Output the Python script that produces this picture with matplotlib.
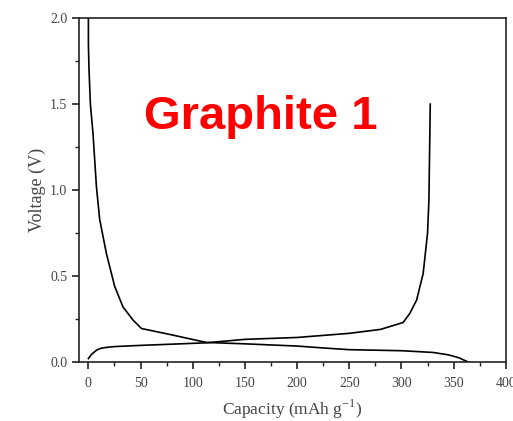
import matplotlib
matplotlib.use('AGG')
import numpy as np
import matplotlib.pyplot as plt
from matplotlib.ticker import MultipleLocator

plt.rcParams['mathtext.fontset'] = 'custom'
plt.rcParams['mathtext.rm'] = 'Liberation Serif'

# first discharge (lithiation) curve
dis_cap = [0, 0, 0.6, 1.9, 4.4, 7.7, 10.8, 17.3, 25.2, 33.2, 42.8, 50.9, 80, 113, 150, 200, 230,
           250, 300, 330, 345, 355, 364]
dis_v = [2.0, 1.85, 1.70, 1.50, 1.33, 1.02, 0.83, 0.63, 0.44, 0.32, 0.244, 0.195, 0.158, 0.114, 0.106,
         0.093, 0.08, 0.072, 0.066, 0.056, 0.042, 0.025, 0.0]

# first charge (delithiation) curve
chg_cap = [0, 3, 8, 12, 17, 25, 50, 80, 113, 150, 200, 250, 280, 301.6, 308, 314.5, 320.8, 325,
           326.3, 327.2, 327.6]
chg_v = [0.02, 0.045, 0.07, 0.08, 0.085, 0.09, 0.097, 0.104, 0.112, 0.132, 0.143, 0.167, 0.19, 0.23,
         0.283, 0.36, 0.515, 0.75, 0.94, 1.33, 1.5]

title = "Graphite 1"

fig = plt.figure(figsize=(5.13, 4.21), dpi=100)
ax = fig.add_axes([0.154, 0.140, 0.832, 0.817])

ax.plot(dis_cap, dis_v, color='black', lw=1.2)
ax.plot(chg_cap, chg_v, color='black', lw=1.2)

ax.set_xlim(-9, 400)
ax.set_ylim(0, 2.0)
ax.xaxis.set_major_locator(MultipleLocator(50))
ax.xaxis.set_minor_locator(MultipleLocator(25))
ax.yaxis.set_major_locator(MultipleLocator(0.5))
ax.yaxis.set_minor_locator(MultipleLocator(0.25))
ax.tick_params(which='major', direction='out', length=5, width=1.2, colors='#222',
               labelsize=10, labelcolor='#444')
ax.tick_params(axis='x', which='major', pad=6)
ax.tick_params(which='minor', direction='out', length=3, width=1.0, colors='#222')
for lab in ax.get_xticklabels() + ax.get_yticklabels():
    lab.set_family('Liberation Serif')
for sp in ax.spines.values():
    sp.set_linewidth(1.2)
    sp.set_color('#222')

ax.set_xlabel('Capacity (mAh g$^{-1}$)', family='Liberation Serif', fontsize=12.5, color='#444',
              labelpad=5)
ax.set_ylabel('Voltage (V)', family='Liberation Serif', fontsize=13, color='#444', labelpad=3)

ax.text(0.425, 0.713, title, transform=ax.transAxes, ha='center', va='center',
        family='Liberation Sans', fontweight='bold', fontsize=34, color='#ff0000')

plt.savefig('out.png', dpi=100)
